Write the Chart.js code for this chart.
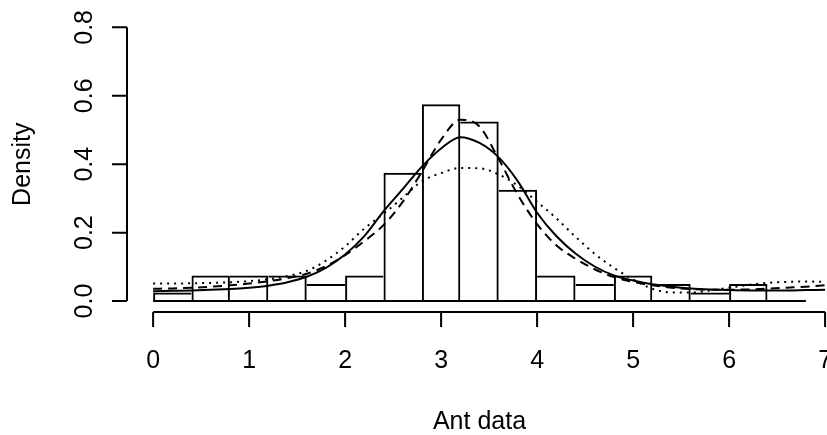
<!DOCTYPE html>
<html>
<head>
<meta charset="utf-8">
<script src="https://cdn.jsdelivr.net/npm/chart.js@4/dist/chart.umd.min.js"></script>
<style>
html,body{margin:0;padding:0;background:#ffffff;}
canvas{display:block;}
</style>
</head>
<body>
<canvas id="c" width="827" height="435"></canvas>
<script>
// ---- data ----
const binEdges = [0,0.4,0.8,1.2,1.6,2.0,2.4,2.8,3.2,3.6,4.0,4.4,4.8,5.2,5.6,6.0,6.4,6.8];
const binDensity = [0.025,0.075,0.075,0.075,0.05,0.075,0.375,0.575,0.525,0.325,0.075,0.05,0.075,0.05,0.025,0.05,0];

const curveX = [0,0.2,0.4,0.6,0.8,1.0,1.2,1.4,1.6,1.8,2.0,2.2,2.4,2.6,2.8,3.0,3.2,3.4,3.6,3.8,4.0,4.2,4.4,4.6,4.8,5.0,5.2,5.4,5.6,5.8,6.0,6.2,6.4,6.6,6.8,7.0];
const solidCurve = [0.029,0.030,0.031,0.033,0.035,0.039,0.045,0.055,0.071,0.097,0.136,0.190,0.262,0.327,0.393,0.446,0.479,0.462,0.420,0.350,0.258,0.190,0.139,0.101,0.075,0.060,0.049,0.042,0.037,0.034,0.032,0.031,0.031,0.031,0.032,0.033];
const dashedCurve = [0.036,0.037,0.039,0.042,0.046,0.051,0.058,0.067,0.080,0.102,0.134,0.175,0.222,0.290,0.378,0.472,0.530,0.510,0.415,0.310,0.225,0.163,0.124,0.093,0.070,0.056,0.046,0.039,0.035,0.033,0.033,0.034,0.036,0.039,0.042,0.046];
const dottedCurve = [0.051,0.051,0.052,0.053,0.055,0.058,0.064,0.073,0.088,0.118,0.160,0.212,0.255,0.302,0.350,0.374,0.389,0.388,0.370,0.337,0.290,0.242,0.188,0.138,0.097,0.063,0.036,0.025,0.025,0.031,0.039,0.047,0.053,0.056,0.057,0.056];

const xTickValues = [0,1,2,3,4,5,6,7];
const xTickLabels = ["0","1","2","3","4","5","6","7"];
const yTickValues = [0,0.2,0.4,0.6,0.8];
const yTickLabels = ["0.0","0.2","0.4","0.6","0.8"];
const xAxisTitle = "Ant data";
const yAxisTitle = "Density";

// ---- build library structures ----
const barPoints = binDensity.map((d, i) => ({x: (binEdges[i] + binEdges[i + 1]) / 2, y: d}));
const baselinePoints = [{x: binEdges[0], y: 0}, {x: binEdges[binEdges.length - 1], y: 0}];
const toPts = arr => arr.map((v, i) => ({x: curveX[i], y: v}));

const LW = 2;
const FONT = '25px "Liberation Sans", Arial, Helvetica, sans-serif';

function barBorder(ctx) {
  const i = ctx.dataIndex;
  const h = binDensity[i];
  const n = binDensity.length;
  const left = (i === 0 || h > binDensity[i - 1]) ? LW : 0;
  const right = (i === n - 1 || h >= binDensity[i + 1]) ? LW : 0;
  return {top: LW, left: left, right: right, bottom: 0};
}

const rAxes = {
  id: 'rAxes',
  afterDraw(chart) {
    const {ctx, chartArea} = chart;
    const xs = chart.scales.x, ys = chart.scales.y;
    const yb = chartArea.bottom;
    const xl = chartArea.left;
    ctx.save();
    ctx.strokeStyle = '#000';
    ctx.lineWidth = LW;
    ctx.lineCap = 'butt';
    ctx.beginPath();
    // x axis
    ctx.moveTo(xs.getPixelForValue(xTickValues[0]), yb);
    ctx.lineTo(xs.getPixelForValue(xTickValues[xTickValues.length - 1]), yb);
    xTickValues.forEach(v => {
      const p = xs.getPixelForValue(v);
      ctx.moveTo(p, yb);
      ctx.lineTo(p, yb + 15);
    });
    // y axis
    ctx.moveTo(xl, ys.getPixelForValue(yTickValues[0]));
    ctx.lineTo(xl, ys.getPixelForValue(yTickValues[yTickValues.length - 1]));
    yTickValues.forEach(v => {
      const p = ys.getPixelForValue(v);
      ctx.moveTo(xl, p);
      ctx.lineTo(xl - 15, p);
    });
    ctx.stroke();

    ctx.fillStyle = '#000';
    ctx.font = FONT;
    ctx.textAlign = 'center';
    ctx.textBaseline = 'alphabetic';
    xTickValues.forEach((v, i) => {
      ctx.fillText(xTickLabels[i], xs.getPixelForValue(v), yb + 56);
    });
    ctx.fillText(xAxisTitle, (xl + 832) / 2, yb + 117);

    yTickValues.forEach((v, i) => {
      ctx.save();
      ctx.translate(xl - 35, ys.getPixelForValue(v));
      ctx.rotate(-Math.PI / 2);
      ctx.fillText(yTickLabels[i], 0, 0);
      ctx.restore();
    });
    ctx.save();
    ctx.translate(30, (chartArea.top + chartArea.bottom) / 2);
    ctx.rotate(-Math.PI / 2);
    ctx.fillText(yAxisTitle, 0, 0);
    ctx.restore();
    ctx.restore();
  }
};

new Chart(document.getElementById('c'), {
  type: 'bar',
  data: {
    datasets: [
      {
        type: 'bar',
        label: 'Histogram',
        data: barPoints,
        backgroundColor: 'rgba(0,0,0,0)',
        borderColor: '#000',
        borderWidth: barBorder,
        borderSkipped: false,
        inflateAmount: 0,
        barPercentage: 1,
        categoryPercentage: 1,
        order: 5
      },
      {
        type: 'line',
        label: 'baseline',
        data: baselinePoints,
        borderColor: '#000',
        borderWidth: LW,
        pointRadius: 0,
        fill: false,
        order: 4
      },
      {
        type: 'line',
        label: 'solid',
        data: toPts(solidCurve),
        borderColor: '#000',
        borderWidth: LW,
        pointRadius: 0,
        fill: false,
        cubicInterpolationMode: 'monotone',
        order: 1
      },
      {
        type: 'line',
        label: 'dashed',
        data: toPts(dashedCurve),
        borderColor: '#000',
        borderWidth: LW,
        borderDash: [9, 6],
        pointRadius: 0,
        fill: false,
        cubicInterpolationMode: 'monotone',
        order: 2
      },
      {
        type: 'line',
        label: 'dotted',
        data: toPts(dottedCurve),
        borderColor: '#000',
        borderWidth: LW,
        borderDash: [2, 5],
        pointRadius: 0,
        fill: false,
        cubicInterpolationMode: 'monotone',
        order: 3
      }
    ]
  },
  options: {
    responsive: false,
    animation: false,
    devicePixelRatio: 1,
    layout: {padding: {left: 127, right: 0, top: 16.4, bottom: 123}},
    plugins: {legend: {display: false}, tooltip: {enabled: false}},
    scales: {
      x: {type: 'linear', min: -0.272, max: 7.02, offset: false, display: false},
      y: {type: 'linear', min: -0.032, max: 0.832, display: false}
    }
  },
  plugins: [rAxes]
});
</script>
</body>
</html>
